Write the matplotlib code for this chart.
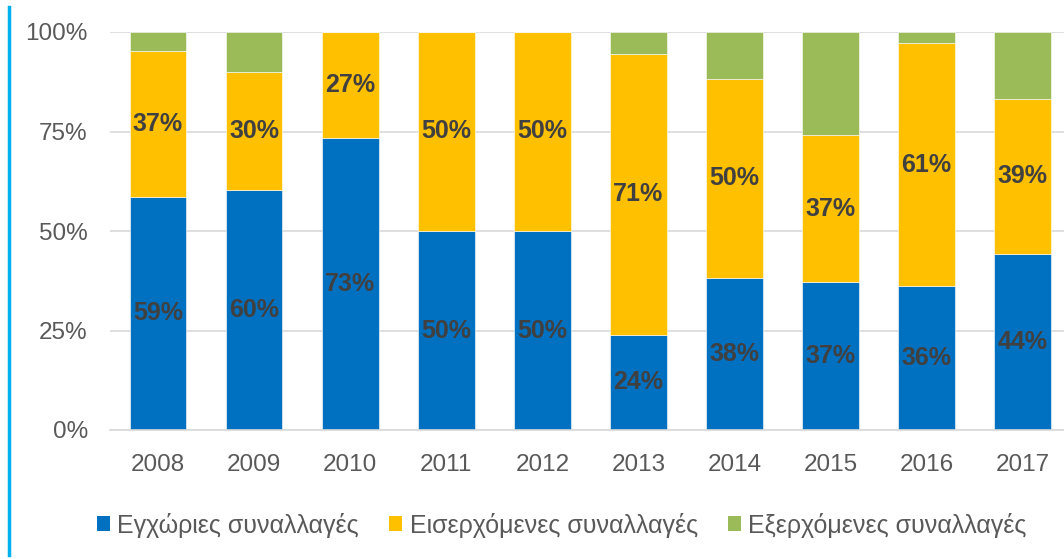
import numpy as np
import matplotlib
matplotlib.use('Agg')
import matplotlib.pyplot as plt
from matplotlib.lines import Line2D
from matplotlib.patches import Patch

years = ['2008', '2009', '2010', '2011', '2012', '2013', '2014', '2015', '2016', '2017']
domestic = [58.6, 60.2, 73.4, 50.0, 50.0, 23.9, 38.3, 37.2, 36.2, 44.2]
incoming = [36.6, 29.8, 26.6, 50.0, 50.0, 70.6, 49.9, 36.9, 61.0, 39.0]
outgoing = [4.8, 10.0, 0.0, 0.0, 0.0, 5.5, 11.8, 25.9, 2.8, 16.8]
series_names = ['Εγχώριες συναλλαγές', 'Εισερχόμενες συναλλαγές', 'Εξερχόμενες συναλλαγές']
colors = ['#0070C0', '#FFC000', '#9BBB59']

plt.rcParams['font.family'] = ['Liberation Sans', 'DejaVu Sans']

fig = plt.figure(figsize=(10.64, 5.59), dpi=100)
ax = fig.add_axes([110 / 1064, 1 - 430 / 559, 1 - 110 / 1064, 398 / 559])

x = np.arange(len(years))
width = 0.59
bottom = np.zeros(len(years))
for vals, col, name, labelled in zip([domestic, incoming, outgoing], colors, series_names,
                                     [True, True, False]):
    vals = np.array(vals)
    ax.bar(x, vals, width, bottom=bottom, color=col, edgecolor='white', linewidth=0.4,
           label=name, zorder=2)
    # подписи только для синего и жёлтого сегментов
    if labelled:
        for xi, b, v in zip(x, bottom, vals):
            if v > 0:
                ax.text(xi, b + v / 2, f'{v:.0f}%', ha='center', va='center',
                        fontsize=18, fontweight='bold', color='#404040', zorder=3)
    bottom += vals

ax.set_xlim(-0.5, 9.43)
ax.set_ylim(0, 100)
ax.set_yticks([0, 25, 50, 75, 100])
ax.set_yticklabels(['0%', '25%', '50%', '75%', '100%'])
ax.set_xticks(x)
ax.set_xticklabels(years)
ax.tick_params(axis='both', length=0, labelsize=17.5, labelcolor='#595959')
ax.tick_params(axis='y', pad=16)
ax.tick_params(axis='x', pad=17)
ax.grid(axis='y', color='#D9D9D9', linewidth=1.2, zorder=0)
ax.set_axisbelow(True)
for s in ['top', 'right', 'left']:
    ax.spines[s].set_visible(False)
ax.spines['bottom'].set_color('#D9D9D9')
ax.spines['bottom'].set_linewidth(1.2)

handles = [Patch(facecolor=c, edgecolor='none') for c in colors]
fig.legend(handles, series_names, loc='center', bbox_to_anchor=(0.528, 1 - 525 / 559),
           ncol=3, frameon=False, fontsize=18, labelcolor='#595959',
           handlelength=0.52, handleheight=0.52, handletextpad=0.3, columnspacing=1.2)

fig.add_artist(Line2D([9 / 1064, 9 / 1064], [1 - 555 / 559, 1 - 7 / 559],
                      color='#00B0F0', linewidth=2.5))

fig.savefig('out.png', dpi=100)
